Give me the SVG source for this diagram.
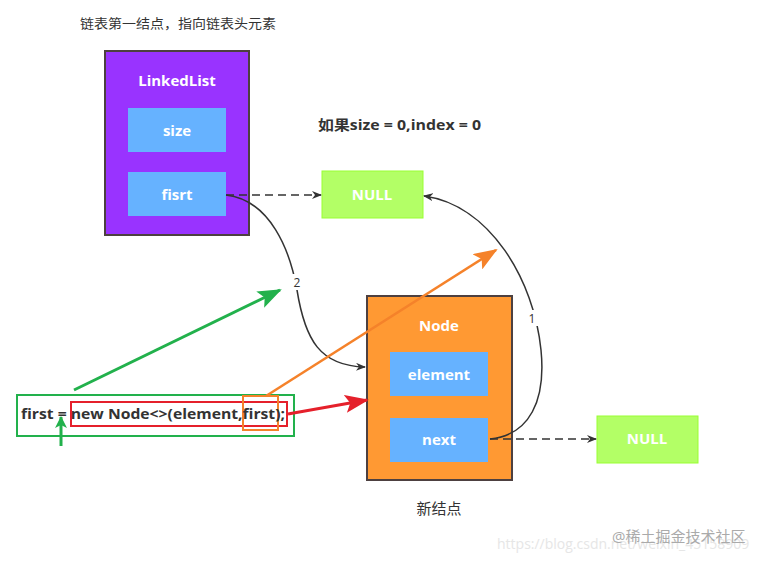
<svg xmlns="http://www.w3.org/2000/svg" width="774" height="562" viewBox="0 0 774 562">
<style>
text{font-family:"Open Sans","Noto Sans CJK SC",sans-serif;}
.w{fill:#fff;font-weight:bold;font-size:15px;text-anchor:middle;}
.d{fill:#333;font-size:14px;}
.b{fill:#333;font-weight:bold;font-size:14px;}
.field{fill:#66b2ff;}
.null{fill:#b3ff66;stroke:#99ff33;stroke-width:1;}
.conn{fill:none;stroke:#333;stroke-width:1.5;}
.dash{stroke-dasharray:8 5;}
.lbl{font-size:12px;fill:#333;text-anchor:middle;}
</style>
<defs>
<marker id="ah" markerWidth="10" markerHeight="8" refX="9" refY="4" orient="auto" markerUnits="userSpaceOnUse"><path d="M0,0 L10,4 L0,8 L3,4 z" fill="#333"/></marker>
<marker id="ag" markerWidth="24" markerHeight="18" refX="22" refY="9" orient="auto" markerUnits="userSpaceOnUse"><path d="M0,0 L24,9 L0,18 L5,9 z" fill="#22b14c"/></marker>
<marker id="agS" markerWidth="12" markerHeight="12" refX="11" refY="6" orient="auto" markerUnits="userSpaceOnUse"><path d="M0,0 L12,6 L0,12 L3,6 z" fill="#22b14c"/></marker>
<marker id="ar" markerWidth="24" markerHeight="18" refX="22" refY="9" orient="auto" markerUnits="userSpaceOnUse"><path d="M0,0 L24,9 L0,18 L5,9 z" fill="#e5202b"/></marker>
<marker id="ao" markerWidth="24" markerHeight="18" refX="22" refY="9" orient="auto" markerUnits="userSpaceOnUse"><path d="M0,0 L24,9 L0,18 L5,9 z" fill="#f5822a"/></marker>
</defs>

<text x="80" y="28" class="d" style="font-size:13px" textLength="196" lengthAdjust="spacingAndGlyphs">链表第一结点，指向链表头元素</text>

<g id="linkedlist">
<rect x="105" y="51" width="144" height="184" fill="#9933ff" stroke="#4d4040" stroke-width="2"/>
<text x="177" y="86" class="w">LinkedList</text>
<rect x="128" y="108" width="98" height="44" class="field"/>
<text x="177" y="136" class="w">size</text>
<rect x="128" y="172" width="98" height="44" class="field"/>
<text x="177" y="200" class="w">fisrt</text>
</g>

<text x="318" y="130" class="b" textLength="163" lengthAdjust="spacingAndGlyphs">如果size = 0,index = 0</text>

<g id="null1">
<rect x="322" y="171" width="101" height="47" class="null"/>
<text x="372" y="200" class="w">NULL</text>
</g>

<g id="node">
<rect x="367" y="296" width="145" height="184" fill="#ff9933" stroke="#4d4040" stroke-width="2"/>
<text x="439" y="331" class="w">Node</text>
<rect x="390" y="352" width="98" height="44" class="field"/>
<text x="439" y="380" class="w">element</text>
<rect x="390" y="418" width="98" height="44" class="field"/>
<text x="439" y="445" class="w">next</text>
</g>

<g id="null2">
<rect x="597" y="416" width="101" height="47" class="null"/>
<text x="647" y="444" class="w">NULL</text>
</g>

<text x="439" y="514" class="d" style="font-size:15px;text-anchor:middle">新结点</text>

<g id="code">
<rect x="17" y="395" width="277" height="41" fill="none" stroke="#22b14c" stroke-width="2"/>
<rect x="71" y="402" width="216" height="24" fill="none" stroke="#e5202b" stroke-width="2"/>
<rect x="243" y="396" width="35" height="34" fill="none" stroke="#f5822a" stroke-width="2"/>
<text x="21" y="419" class="b" textLength="264" lengthAdjust="spacingAndGlyphs">first = new Node&lt;&gt;(element,first);</text>
</g>

<g id="connectors">
<line x1="226" y1="195" x2="321" y2="195" class="conn dash" marker-end="url(#ah)"/>
<line x1="490" y1="439" x2="596" y2="439" class="conn dash" marker-end="url(#ah)"/>
<path d="M490,439 C530,435 546,400 541,350 C534,280 490,205 424,196" class="conn" marker-end="url(#ah)"/>
<path d="M226,195 C270,200 290,250 297,290 C305,340 320,366 365,367" class="conn" marker-end="url(#ah)"/>
<rect x="291" y="274" width="12" height="16" fill="#fff"/>
<text x="297" y="287" class="lbl">2</text>
<rect x="527" y="310" width="11" height="16" fill="#fff"/>
<text x="532" y="323" class="lbl">1</text>
<line x1="74" y1="390" x2="280" y2="290" stroke="#22b14c" stroke-width="3" marker-end="url(#ag)"/>
<line x1="61" y1="446" x2="61" y2="417" stroke="#22b14c" stroke-width="3" marker-end="url(#agS)"/>
<line x1="288" y1="414" x2="367" y2="400" stroke="#e5202b" stroke-width="3" marker-end="url(#ar)"/>
<line x1="266" y1="396" x2="496" y2="250" stroke="#f5822a" stroke-width="2.5" marker-end="url(#ao)"/>
</g>

<text x="497" y="549" style="font-size:14px;fill:#e6e6e6">https://blog.csdn.net/weixin_45158909</text>
<text x="612" y="542" style="font-size:15px;fill:#aaa">@稀土掘金技术社区</text>
</svg>
